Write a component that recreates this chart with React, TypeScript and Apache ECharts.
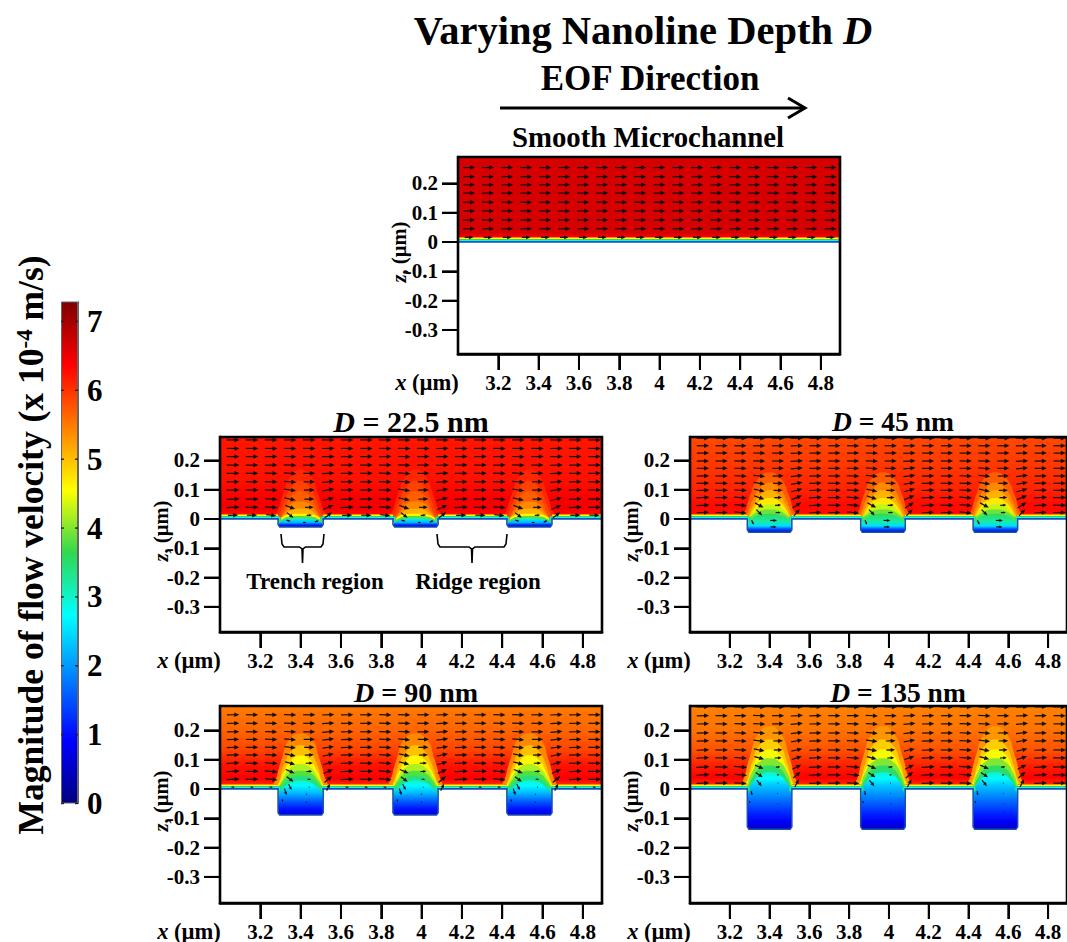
import React, { useEffect, useRef } from "react";
import * as echarts from "echarts";

const FONT = "Liberation Serif";
const xTicks = [3.2, 3.4, 3.6, 3.8, 4, 4.2, 4.4, 4.6, 4.8];
const zTicks = [0.2, 0.1, 0, -0.1, -0.2, -0.3];
const colorbarTicks = [0, 1, 2, 3, 4, 5, 6, 7];
const colorbarMax = 7.29;
const jetValues = [0, 0.91, 2.73, 3.64, 4.55, 6.37, 7.29];
const jetColors = ["#00007f", "#0000ff", "#00ffff", "#30d850", "#ffff00", "#ff0000", "#7f0000"];

const trenchCentres = [3.4, 3.97, 4.535];
const trenchHalf = 0.112;
const arrowColumns = [3.065, 3.159, 3.254, 3.348, 3.443, 3.537, 3.631, 3.726, 3.82, 3.914, 4.009, 4.103, 4.197, 4.292, 4.386, 4.48, 4.575, 4.669, 4.763, 4.858];
const wallLayers = [
  [5.4, 10],
  [4.6, 8],
  [3.6, 6],
  [2.7, 4],
  [1.6, 2],
];

// Panel A: smooth channel
const profileA = [[0.29, 6.66], [0.03, 6.66], [0.018, 6.4], [0, 6.3]];
const rowsA = [0.254, 0.223, 0.195, 0.167, 0.136, 0.106, 0.075, 0.045, 0.016];
const speedA = [5.9, 5.9, 5.9, 5.9, 5.9, 5.9, 5.9, 5.9, 4.2];

// Panel profiles (z, speed)
const profileB = [[0.28, 6.22], [0.14, 6.25], [0.07, 6.42], [0.035, 6.45], [0.015, 6.3], [0, 6.0]];
const profileC = [[0.28, 5.85], [0.2, 5.95], [0.1, 6.12], [0.05, 6.3], [0.02, 6.3], [0, 6.0]];
const profileD = [[0.283, 5.5], [0.2, 5.65], [0.13, 5.9], [0.08, 6.25], [0.035, 6.4], [0.015, 6.1], [0, 5.5]];
const profileE = [[0.285, 5.45], [0.2, 5.55], [0.13, 5.8], [0.08, 6.15], [0.04, 6.38], [0.015, 6.1], [0, 5.5]];

// Contour levels over a trench: [speed, [half width, z]...]
const levelsB: any[] = [
  [6.1, [[0, 0.17], [0.05, 0.145], [0.085, 0.09], [0.11, 0.035], [0.135, -0.01]]],
  [5.9, [[0, 0.13], [0.045, 0.11], [0.075, 0.07], [0.1, 0.025], [0.12, -0.01]]],
  [5.7, [[0, 0.095], [0.045, 0.08], [0.07, 0.05], [0.09, 0.018], [0.115, -0.01]]],
  [5.4, [[0, 0.06], [0.05, 0.05], [0.07, 0.03], [0.09, 0.01], [0.11, -0.02]]],
  [5.1, [[0, 0.035], [0.05, 0.03], [0.07, 0.018], [0.09, 0.005], [0.105, -0.03]]],
  [4.6, [[0, 0.018], [0.05, 0.016], [0.08, 0.01], [0.1, -0.002], [0.11, -0.04]]],
  [3.8, [[0, 0.01], [0.06, 0.008], [0.085, 0.002], [0.105, -0.01], [0.11, -0.05]]],
];
const domeB = { pts: [[0, 0.002], [0.06, 0], [0.09, -0.006], [0.108, -0.016], [0.112, -0.06]], stops: [[0.002, 2.9], [-0.012, 2.2], [-0.02, 1.2], [-0.027, 0.5]] };
const levelsC: any[] = [
  [5.7, [[0, 0.16], [0.06, 0.135], [0.095, 0.085], [0.115, 0.04], [0.135, -0.01]]],
  [5.4, [[0, 0.125], [0.05, 0.105], [0.085, 0.065], [0.105, 0.03], [0.12, -0.01]]],
  [5.1, [[0, 0.098], [0.05, 0.08], [0.08, 0.05], [0.1, 0.02], [0.115, -0.01]]],
  [4.7, [[0, 0.072], [0.05, 0.06], [0.075, 0.04], [0.095, 0.015], [0.115, -0.02]]],
  [4.3, [[0, 0.05], [0.05, 0.042], [0.08, 0.025], [0.1, 0.008], [0.115, -0.03]]],
  [3.9, [[0, 0.032], [0.05, 0.027], [0.08, 0.015], [0.1, 0.002], [0.11, -0.06]]],
];
const domeC = { pts: [[0, 0.018], [0.05, 0.014], [0.085, 0.004], [0.105, -0.012], [0.112, -0.07]], stops: [[0.018, 3.6], [-0.008, 3.2], [-0.024, 2.5], [-0.034, 1.5], [-0.045, 0.6]] };
const levelsD: any[] = [
  [5.4, [[0, 0.19], [0.06, 0.165], [0.09, 0.11], [0.115, 0.05], [0.13, -0.01]]],
  [5.0, [[0, 0.15], [0.05, 0.125], [0.08, 0.085], [0.1, 0.04], [0.115, -0.01]]],
  [4.6, [[0, 0.115], [0.05, 0.097], [0.078, 0.065], [0.1, 0.03], [0.115, -0.01]]],
  [4.2, [[0, 0.085], [0.055, 0.07], [0.085, 0.042], [0.105, 0.015], [0.115, -0.02]]],
  [3.8, [[0, 0.062], [0.055, 0.052], [0.085, 0.03], [0.105, 0.008], [0.112, -0.02]]],
  [3.4, [[0, 0.045], [0.05, 0.038], [0.085, 0.016], [0.105, 0], [0.112, -0.03]]],
];
const domeD = { pts: [[0, 0.03], [0.05, 0.022], [0.08, 0.006], [0.105, -0.012], [0.112, -0.12]], stops: [[0.03, 3.0], [0.012, 2.7], [-0.015, 2.2], [-0.045, 1.5], [-0.07, 1.0], [-0.09, 0.6]] };
const levelsE: any[] = [
  [5.3, [[0, 0.215], [0.06, 0.185], [0.095, 0.12], [0.12, 0.055], [0.135, -0.01]]],
  [4.9, [[0, 0.17], [0.055, 0.145], [0.085, 0.095], [0.105, 0.045], [0.12, -0.01]]],
  [4.5, [[0, 0.135], [0.05, 0.118], [0.08, 0.08], [0.105, 0.035], [0.118, -0.01]]],
  [4.0, [[0, 0.105], [0.055, 0.09], [0.09, 0.055], [0.108, 0.02], [0.115, -0.02]]],
  [3.5, [[0, 0.08], [0.05, 0.07], [0.085, 0.04], [0.105, 0.01], [0.112, -0.03]]],
];
const domeE = { pts: [[0, 0.058], [0.05, 0.048], [0.085, 0.022], [0.105, -0.005], [0.112, -0.17]], stops: [[0.058, 3.0], [0.035, 2.7], [0.01, 2.3], [-0.03, 1.8], [-0.08, 1.2], [-0.11, 0.9], [-0.137, 0.5]] };

// Arrow rows and tables: columns at offsets -13,+6,+25,+44,+63,+82 px from a trench centre
const rowsB = [0.27, 0.241, 0.213, 0.184, 0.156, 0.127, 0.099, 0.068, 0.04, 0.013];
const uB = [
  [6.2, 6.2, 6.2, 6.2, 6.2, 6.2],
  [6.2, 6.2, 6.2, 6.2, 6.2, 6.2],
  [6.2, 6.1, 6.2, 6.2, 6.2, 6.2],
  [6.2, 6.0, 6.2, 6.2, 6.2, 6.2],
  [6.1, 5.8, 6.1, 6.2, 6.2, 6.2],
  [6.0, 5.5, 6.0, 6.2, 6.2, 6.2],
  [5.8, 5.2, 5.8, 6.3, 6.3, 6.3],
  [5.4, 4.8, 5.6, 6.4, 6.4, 6.2],
  [4.8, 4.2, 5.0, 6.4, 6.4, 6.0],
  [3.2, 2.6, 3.6, 5.0, 5.0, 5.0],
];
const wB = [
  [0, 0, 0, 0, 0, 0],
  [0, 0, 0.1, 0, 0, 0],
  [-0.1, 0, 0.1, 0, 0, 0],
  [-0.2, 0, 0.2, 0, 0, 0],
  [-0.4, 0.05, 0.4, 0.1, 0, -0.1],
  [-0.5, 0.1, 0.6, 0.1, 0, -0.1],
  [-0.8, 0.1, 0.9, 0.15, 0, -0.2],
  [-1.2, 0.1, 1.4, 0.2, 0, -0.3],
  [-1.8, 0.1, 2.2, 0.3, 0, -0.4],
  [-2.5, 0.1, 2.8, 0.2, 0, -0.5],
];
const rowsC = [0.276, 0.25, 0.225, 0.198, 0.173, 0.147, 0.122, 0.098, 0.073, 0.047, 0.022];
const uC = [
  [6.0, 6.0, 6.0, 6.0, 6.0, 6.0],
  [6.0, 6.0, 6.0, 6.0, 6.0, 6.0],
  [6.0, 6.0, 6.0, 6.0, 6.0, 6.0],
  [6.0, 5.9, 6.0, 6.0, 6.0, 6.0],
  [5.9, 5.7, 5.9, 6.0, 6.0, 6.0],
  [5.8, 5.4, 5.8, 6.1, 6.1, 6.1],
  [5.6, 5.0, 5.6, 6.2, 6.2, 6.1],
  [5.3, 4.4, 5.4, 6.3, 6.3, 6.2],
  [4.9, 3.8, 5.0, 6.4, 6.4, 6.2],
  [4.2, 3.0, 4.3, 6.4, 6.4, 6.0],
  [2.8, 2.4, 3.0, 6.0, 6.0, 6.0],
];
const wC = [
  [0, 0, 0.05, 0, 0, 0],
  [0, 0, 0.1, 0, 0, 0],
  [-0.1, 0, 0.2, 0, 0, 0],
  [-0.2, 0, 0.3, 0.1, 0, -0.1],
  [-0.4, 0.05, 0.5, 0.1, 0, -0.1],
  [-0.6, 0.1, 0.7, 0.15, 0, -0.2],
  [-0.9, 0.1, 1.0, 0.2, 0, -0.2],
  [-1.2, 0.1, 1.4, 0.2, 0, -0.3],
  [-1.7, 0.1, 2.0, 0.3, 0, -0.4],
  [-2.3, 0.1, 2.8, 0.3, 0, -0.5],
  [-2.8, 0.1, 3.2, 0.2, 0, -0.6],
];
const rowsD = [0.253, 0.224, 0.195, 0.169, 0.142, 0.116, 0.088, 0.06, 0.033, 0.006];
const uD = [
  [6.0, 6.0, 6.0, 6.0, 6.0, 6.0],
  [6.0, 5.9, 6.0, 6.0, 6.0, 6.0],
  [5.9, 5.8, 5.9, 6.0, 6.0, 6.0],
  [5.8, 5.5, 5.8, 6.0, 6.0, 6.0],
  [5.6, 5.0, 5.6, 6.1, 6.1, 6.1],
  [5.3, 4.4, 5.4, 6.2, 6.2, 6.1],
  [4.9, 3.6, 5.0, 6.3, 6.3, 6.3],
  [4.3, 2.8, 4.5, 6.5, 6.5, 6.3],
  [3.3, 1.7, 3.6, 6.4, 6.4, 6.1],
  [1.5, 0.5, 1.6, 1.6, 1.6, 1.6],
];
const wD = [
  [-0.1, 0, 0.2, 0.05, 0, -0.1],
  [-0.2, 0, 0.3, 0.1, 0, -0.1],
  [-0.3, 0.05, 0.5, 0.1, 0, -0.2],
  [-0.5, 0.05, 0.6, 0.15, 0, -0.2],
  [-0.7, 0.1, 0.8, 0.2, 0, -0.3],
  [-1.0, 0.1, 1.1, 0.25, 0, -0.3],
  [-1.3, 0.1, 1.5, 0.3, 0, -0.4],
  [-1.8, 0.1, 2.0, 0.35, 0, -0.5],
  [-2.4, 0.05, 3.2, 0.4, 0, -0.6],
  [-2.8, 0, 3.4, 0, 0, -0.1],
];
const rowsE = [0.28, 0.25, 0.222, 0.191, 0.164, 0.133, 0.106, 0.075, 0.048, 0.02];
const uE = [
  [6.0, 6.0, 6.0, 6.0, 6.0, 6.0],
  [6.0, 5.9, 6.0, 6.0, 6.0, 6.0],
  [5.9, 5.8, 5.9, 6.0, 6.0, 6.0],
  [5.8, 5.4, 5.8, 6.0, 6.0, 6.0],
  [5.6, 4.8, 5.6, 6.1, 6.1, 6.1],
  [5.2, 4.2, 5.3, 6.2, 6.2, 6.1],
  [4.8, 3.4, 4.9, 6.3, 6.3, 6.2],
  [4.2, 2.2, 4.3, 6.5, 6.5, 6.4],
  [3.4, 1.2, 3.6, 6.5, 6.5, 6.3],
  [2.4, 0.5, 2.0, 6.2, 6.2, 6.0],
];
const wE = [
  [-0.1, 0, 0.2, 0.05, 0, -0.1],
  [-0.2, 0, 0.3, 0.1, 0, -0.1],
  [-0.3, 0.05, 0.5, 0.1, 0, -0.2],
  [-0.5, 0.05, 0.7, 0.15, 0, -0.2],
  [-0.7, 0.1, 0.9, 0.2, 0, -0.3],
  [-1.0, 0.1, 1.2, 0.25, 0, -0.3],
  [-1.3, 0.1, 1.6, 0.3, 0, -0.4],
  [-1.8, 0.1, 2.2, 0.35, 0, -0.5],
  [-2.4, 0.05, 3.0, 0.4, 0, -0.6],
  [-3.0, 0, 3.8, 0.2, 0, -0.3],
];
// Arrows inside trenches: [offset from centre, z, u, w]
const trenchArrowsB = [[-0.06, -0.006, 2.0, -0.6], [0.02, -0.012, 1.6, 0], [0.08, -0.008, 1.8, 0.8]];
const trenchArrowsC = [[-0.085, -0.012, 1.0, -2.2], [0.02, -0.005, 3.4, 0], [0.02, -0.027, 3.0, 0]];
const trenchArrowsD = [[-0.075, -0.01, 1.0, -3.2], [-0.09, -0.04, 0.3, -1.4], [0.03, -0.018, 0.7, 0], [0.03, -0.045, 0.6, 0], [0.03, -0.07, 0.5, 0]];
const trenchArrowsE = [[-0.09, -0.015, 0.4, -2.2], [-0.1, -0.045, 0.1, -1.2], [0.04, -0.015, 0.4, 0], [0.04, -0.05, 0.3, 0], [0.04, -0.08, 0.3, 0], [0.04, -0.11, 0.3, 0]];

const panels: any[] = [
  { left: 458, top: 157, h: 197, zMax: 0.29, zMin: -0.382, depth: 0, profile: profileA, levels: [], dome: null, rows: rowsA, speed: speedA, extra: [] },
  { left: 220, top: 437, h: 195, zMax: 0.28, zMin: -0.386, depth: 0.027, profile: profileB, levels: levelsB, dome: domeB, rows: rowsB, u: uB, w: wB, extra: trenchArrowsB },
  { left: 690, top: 437, h: 195, zMax: 0.28, zMin: -0.386, depth: 0.045, profile: profileC, levels: levelsC, dome: domeC, rows: rowsC, u: uC, w: wC, extra: trenchArrowsC },
  { left: 220, top: 706, h: 197, zMax: 0.283, zMin: -0.389, depth: 0.089, profile: profileD, levels: levelsD, dome: domeD, rows: rowsD, u: uD, w: wD, extra: trenchArrowsD },
  { left: 690, top: 706, h: 197, zMax: 0.283, zMin: -0.389, depth: 0.137, profile: profileE, levels: levelsE, dome: domeE, rows: rowsE, u: uE, w: wE, extra: trenchArrowsE },
];
const xMin = 3.0;
const xMax = 4.895;
const panelWidth = 382;

function jet(v: number): string {
  let i = 0;
  while (i < jetValues.length - 2 && v > jetValues[i + 1]) i++;
  const t = Math.min(1, Math.max(0, (v - jetValues[i]) / (jetValues[i + 1] - jetValues[i])));
  const a = jetColors[i];
  const b = jetColors[i + 1];
  const c = [1, 3, 5].map((k) => {
    const p = parseInt(a.slice(k, k + 2), 16);
    const q = parseInt(b.slice(k, k + 2), 16);
    return Math.round(p + (q - p) * t);
  });
  return `rgb(${c[0]},${c[1]},${c[2]})`;
}

function mirrored(c: number, half: number[][]) {
  const right = half.map((q) => [c + q[0], q[1]]);
  const left = half
    .slice()
    .reverse()
    .filter((q) => q[0] !== 0)
    .map((q) => [c - q[0], q[1]]);
  return right.concat(left);
}

function fieldItems(p: any): any[] {
  const items: any[] = [{ kind: "bg" }];
  if (p.depth > 0) {
    trenchCentres.forEach((c) => {
      p.levels.forEach((lv: any) => items.push({ kind: "band", v: lv[0], pts: mirrored(c, lv[1]) }));
      items.push({ kind: "dome", pts: mirrored(c, p.dome.pts), stops: p.dome.stops });
    });
  }
  const segments: number[][] = [];
  if (p.depth > 0) {
    segments.push([xMin, trenchCentres[0] - trenchHalf]);
    segments.push([trenchCentres[0] + trenchHalf, trenchCentres[1] - trenchHalf]);
    segments.push([trenchCentres[1] + trenchHalf, trenchCentres[2] - trenchHalf]);
    segments.push([trenchCentres[2] + trenchHalf, xMax]);
  } else {
    segments.push([xMin, xMax]);
  }
  wallLayers.forEach((l) => segments.forEach((s) => items.push({ kind: "strip", v: l[0], w: l[1], s })));
  const solid: number[][] = [[xMin, 0]];
  if (p.depth > 0) {
    const corner = 0.008;
    trenchCentres.forEach((c) => {
      const a = c - trenchHalf;
      const b = c + trenchHalf;
      solid.push([a, 0], [a, -p.depth + corner], [a + corner, -p.depth], [b - corner, -p.depth], [b, -p.depth + corner], [b, 0]);
    });
  }
  solid.push([xMax, 0], [xMax, p.zMin], [xMin, p.zMin]);
  items.push({ kind: "mask", pts: solid });
  return items;
}

function arrowData(p: any): number[][] {
  const out: number[][] = [];
  arrowColumns.forEach((x, i) => {
    p.rows.forEach((z: number, r: number) => {
      if (p.depth === 0) out.push([x - 0.01, z, p.speed[r], 0]);
      else {
        const k = (i + 3) % 6;
        out.push([x, z, p.u[r][k], p.w[r][k]]);
      }
    });
  });
  trenchCentres.forEach((c) => {
    p.extra.forEach((e: number[]) => out.push([c + e[0], e[1], e[2], e[3]]));
  });
  return out;
}

function arrowItem(params: any, api: any) {
  const k = 2.05;
  const [cx, cy] = api.coord([api.value(0), api.value(1)]);
  const dx = api.value(2) * k;
  const dy = -api.value(3) * k;
  const len = Math.hypot(dx, dy) || 1;
  const ux = dx / len;
  const uy = dy / len;
  const tipx = cx + dx / 2;
  const tipy = cy + dy / 2;
  const hl = Math.min(5, len * 0.5);
  const hw = hl * 0.45;
  return {
    type: "group",
    children: [
      { type: "line", shape: { x1: cx - dx / 2, y1: cy - dy / 2, x2: tipx - ux * hl * 0.7, y2: tipy - uy * hl * 0.7 }, style: { stroke: "#111", lineWidth: 1.2, fill: null } },
      {
        type: "polygon",
        shape: { points: [[tipx, tipy], [tipx - ux * hl - uy * hw, tipy - uy * hl + ux * hw], [tipx - ux * hl + uy * hw, tipy - uy * hl - ux * hw]] },
        style: { fill: "#111" },
      },
    ],
  };
}

function fieldRenderer(p: any, items: any[]) {
  return (params: any, api: any) => {
    const it = items[params.dataIndex];
    if (it.kind === "bg") {
      const a = api.coord([xMin, p.zMax]);
      const b = api.coord([xMax, -0.2]);
      const span = p.zMax + 0.2;
      const stops = p.profile.map((q: number[]) => ({ offset: (p.zMax - q[0]) / span, color: jet(q[1]) }));
      return {
        type: "rect",
        shape: { x: a[0], y: a[1], width: b[0] - a[0], height: b[1] - a[1] },
        style: { fill: new echarts.graphic.LinearGradient(0, 0, 0, 1, stops) },
      };
    }
    if (it.kind === "band") {
      return {
        type: "polygon",
        shape: { points: it.pts.map((q: number[]) => api.coord(q)), smooth: 0.5 },
        style: { fill: jet(it.v) },
      };
    }
    if (it.kind === "dome") {
      const ztop = it.stops[0][0];
      const zbot = it.stops[it.stops.length - 1][0];
      const y0 = api.coord([xMin, ztop])[1];
      const y1 = api.coord([xMin, zbot])[1];
      const stops = it.stops.map((q: number[]) => ({ offset: (ztop - q[0]) / (ztop - zbot), color: jet(q[1]) }));
      return {
        type: "polygon",
        shape: { points: it.pts.map((q: number[]) => api.coord(q)), smooth: 0.4 },
        style: { fill: new echarts.graphic.LinearGradient(0, y0, 0, y1, stops, true) },
      };
    }
    if (it.kind === "strip") {
      return {
        type: "polyline",
        shape: { points: [api.coord([it.s[0], 0]), api.coord([it.s[1], 0])] },
        style: { stroke: jet(it.v), lineWidth: it.w, lineCap: it.w <= 6 ? "round" : "butt", fill: null },
      };
    }
    return {
      type: "polygon",
      shape: { points: it.pts.map((q: number[]) => api.coord(q)) },
      style: { fill: "#fff", stroke: "#1a4fb0", lineWidth: 1.5 },
    };
  };
}

function textEl(x: number, y: number, parts: string, size: number, rotation = 0, extraRich: any = {}) {
  return {
    type: "text",
    x,
    y,
    rotation,
    z: 50,
    style: {
      text: parts,
      align: "center",
      verticalAlign: "middle",
      fill: "#000",
      rich: {
        b: { fontFamily: FONT, fontWeight: "bold", fontSize: size, fill: "#000" },
        i: { fontFamily: FONT, fontWeight: "bold", fontStyle: "italic", fontSize: size, fill: "#000" },
        ...extraRich,
      },
    },
  };
}

function brace(l: number, r: number, mid: number, top: number) {
  const y1 = top + 13;
  const pts = [
    [l, top], [l + 1, y1 - 3], [l + 3, y1], [mid - 3, y1], [mid - 0.5, y1 + 2], [mid, top + 29],
    [mid + 0.5, y1 + 2], [mid + 3, y1], [r - 3, y1], [r - 1, y1 - 3], [r, top],
  ];
  return { type: "polyline", z: 50, shape: { points: pts }, style: { stroke: "#000", lineWidth: 1.6, fill: null } };
}

function baseGraphics(): any[] {
  const graphics: any[] = [
    textEl(643, 30, "{b|Varying Nanoline Depth }{i|D}", 40.5),
    textEl(650, 78, "{b|EOF Direction}", 35),
    textEl(648, 137, "{b|Smooth Microchannel}", 28.8),
    textEl(411, 421, "{i|D}{b| = 22.5 nm}", 30),
    textEl(893, 421, "{i|D}{b| = 45 nm}", 27.5),
    textEl(416, 692, "{i|D}{b| = 90 nm}", 28),
    textEl(898, 692, "{i|D}{b| = 135 nm}", 27.5),
    textEl(315, 581, "{b|Trench region}", 23),
    textEl(478, 581, "{b|Ridge region}", 23),
    textEl(31, 545, "{b|Magnitude of flow velocity (x 10}{s|-4}{b| m/s)}", 35.5, Math.PI / 2, {
      s: { fontFamily: FONT, fontWeight: "bold", fontSize: 23, fill: "#000", verticalAlign: "top" },
    }),
    { type: "line", z: 50, shape: { x1: 500, y1: 108, x2: 804, y2: 108 }, style: { stroke: "#000", lineWidth: 3 } },
    { type: "polyline", z: 50, shape: { points: [[788, 98], [805, 108], [788, 118]] }, style: { stroke: "#000", lineWidth: 3, fill: null } },
    brace(281, 324, 302.5, 534),
    brace(437, 507, 472, 534),
  ];
  const zLabelY = [252, 531, 531, 801, 801];
  panels.forEach((p, i) => {
    graphics.push(textEl(p.left - 59, zLabelY[i], "{i|z}{b|, (µm)}", 20.5, Math.PI / 2));
    graphics.push(textEl(p.left - 31, p.top + p.h + 28, "{i|x}{b| (µm)}", 22.5));
  });
  return graphics;
}

function buildOption() {
  const grids: any[] = [];
  const xAxes: any[] = [];
  const yAxes: any[] = [];
  const series: any[] = [];
  panels.forEach((p, i) => {
    grids.push({ left: p.left, top: p.top, width: panelWidth, height: p.h });
    xAxes.push({
      type: "value", gridIndex: i, min: xMin, max: xMax,
      splitLine: { show: false },
      axisLine: { show: true, onZero: false, lineStyle: { color: "#000", width: 2.6 } },
      axisTick: { show: true, customValues: xTicks, length: 16, lineStyle: { color: "#000", width: 2 } },
      axisLabel: { show: true, customValues: xTicks, margin: 18, color: "#000", fontFamily: FONT, fontWeight: "bold", fontSize: 21 },
    });
    yAxes.push({
      type: "value", gridIndex: i, min: p.zMin, max: p.zMax,
      splitLine: { show: false },
      axisLine: { show: true, onZero: false, lineStyle: { color: "#000", width: 2.6 } },
      axisTick: { show: true, customValues: zTicks, length: 16, lineStyle: { color: "#000", width: 2 } },
      axisLabel: { show: true, customValues: zTicks, margin: 20, color: "#000", fontFamily: FONT, fontWeight: "bold", fontSize: 21 },
    });
    const items = fieldItems(p);
    series.push({
      type: "custom", xAxisIndex: i, yAxisIndex: i, clip: true, z: 2,
      data: items.map(() => [xMin, 0]),
      encode: { x: 0, y: 1 },
      renderItem: fieldRenderer(p, items),
    });
    series.push({
      type: "custom", xAxisIndex: i, yAxisIndex: i, clip: true, z: 3,
      data: arrowData(p),
      encode: { x: 0, y: 1 },
      renderItem: arrowItem,
    });
    series.push({
      type: "custom", xAxisIndex: i, yAxisIndex: i, clip: false, z: 4,
      data: [[xMin, p.zMax, xMax, p.zMin]],
      encode: { x: [0, 2], y: [1, 3] },
      renderItem: (_: any, api: any) => {
        const a = api.coord([api.value(0), api.value(1)]);
        const b = api.coord([api.value(2), api.value(3)]);
        const children: any[] = [
          {
            type: "rect",
            shape: { x: a[0], y: a[1], width: b[0] - a[0], height: b[1] - a[1] },
            style: { fill: null, stroke: "#000", lineWidth: 2.6 },
          },
        ];
        xTicks.forEach((x) => {
          const t = api.coord([x, p.zMin]);
          children.push({ type: "rect", shape: { x: t[0] - 1, y: t[1], width: 2, height: 16 }, style: { fill: "#000" } });
        });
        zTicks.forEach((z) => {
          const t = api.coord([xMin, z]);
          children.push({ type: "rect", shape: { x: t[0] - 16, y: t[1] - 1, width: 16, height: 2 }, style: { fill: "#000" } });
        });
        return { type: "group", children };
      },
    });
  });

  // colour bar
  const cb = panels.length;
  grids.push({ left: 61, top: 301.5, width: 17, height: 502 });
  xAxes.push({ type: "category", gridIndex: cb, data: ["speed"], show: false });
  yAxes.push({
    type: "value", gridIndex: cb, min: 0, max: colorbarMax, position: "right",
    splitLine: { show: false },
    axisLine: { show: true, onZero: false, lineStyle: { color: "#666", width: 1 } },
    axisTick: { show: false },
    axisLabel: { show: true, customValues: colorbarTicks, color: "#000", fontFamily: FONT, fontWeight: "bold", fontSize: 31, margin: 9 },
  });
  series.push({
    type: "bar", xAxisIndex: cb, yAxisIndex: cb, barWidth: "100%", z: 1,
    data: [colorbarMax],
    itemStyle: {
      borderColor: "#666", borderWidth: 1,
      color: new echarts.graphic.LinearGradient(
        0, 1, 0, 0,
        jetValues.map((v, k) => ({ offset: v / colorbarMax, color: jetColors[k] })),
      ),
    },
  });
  series.push({
    type: "custom", xAxisIndex: cb, yAxisIndex: cb, clip: false, z: 5,
    data: colorbarTicks.map((v) => [0, v]),
    encode: { x: 0, y: 1 },
    renderItem: (_: any, api: any) => {
      const a = api.coord([0, api.value(1)]);
      return {
        type: "group",
        children: [
          { type: "rect", shape: { x: a[0] - 8.5, y: a[1] - 0.7, width: 3, height: 1.4 }, style: { fill: "#222" } },
          { type: "rect", shape: { x: a[0] + 5.5, y: a[1] - 0.7, width: 3, height: 1.4 }, style: { fill: "#222" } },
        ],
      };
    },
  });

  return { animation: false, grid: grids, xAxis: xAxes, yAxis: yAxes, series, graphic: baseGraphics() };
}

export default function App() {
  const ref = useRef<HTMLDivElement>(null);
  useEffect(() => {
    const chart = echarts.init(ref.current as HTMLDivElement, undefined, { renderer: "svg" });
    chart.setOption(buildOption() as any);
    return () => chart.dispose();
  }, []);
  return <div ref={ref} style={{ position: "absolute", left: 0, top: 0, width: 1067, height: 942 }} />;
}
